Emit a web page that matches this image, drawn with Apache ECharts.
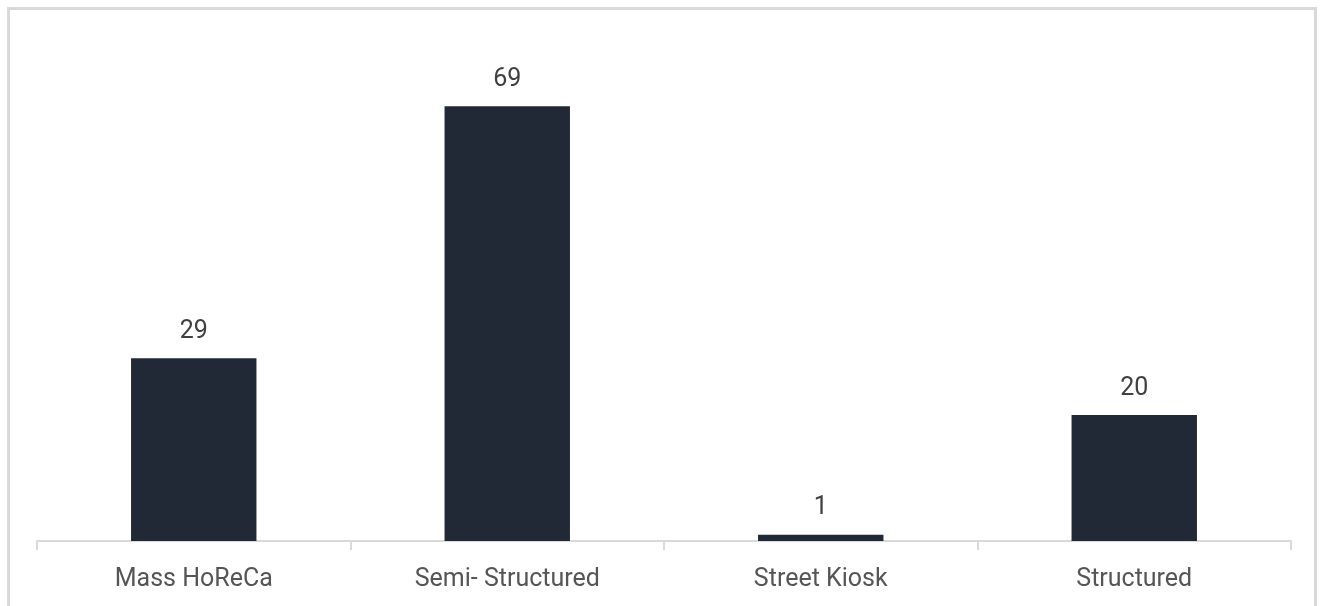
<!DOCTYPE html>
<html>
<head>
<meta charset="utf-8">
<script src="https://cdn.jsdelivr.net/npm/echarts@6/dist/echarts.min.js"></script>
<style>
html,body{margin:0;padding:0;background:#fff;}
#c{width:1325px;height:606px;}
</style>
</head>
<body>
<div id="c"></div>
<script>
const categories = ['Mass HoReCa', 'Semi- Structured', 'Street Kiosk', 'Structured'];
const values = [29, 69, 1, 20];

const chart = echarts.init(document.getElementById('c'));
chart.setOption({
  animation: false,
  backgroundColor: '#ffffff',
  graphic: [{
    type: 'rect',
    shape: {x: 8.5, y: 8.5, width: 1307, height: 640},
    style: {fill: 'none', stroke: '#d9d9d9', lineWidth: 3},
    silent: true
  }],
  grid: {left: 37, right: 34, top: 37, bottom: 65},
  xAxis: {
    type: 'category',
    data: categories,
    axisLine: {lineStyle: {color: '#d9d9d9', width: 2}},
    axisTick: {show: true, length: 9, lineStyle: {color: '#d9d9d9', width: 2}},
    axisLabel: {color: '#555555', fontSize: 25, fontFamily: 'Roboto', margin: 26}
  },
  yAxis: {
    type: 'value',
    min: 0,
    max: 80,
    show: false,
    splitLine: {show: false}
  },
  series: [{
    type: 'bar',
    data: values,
    barWidth: '40%',
    itemStyle: {color: '#222936'},
    label: {
      show: true,
      position: 'top',
      distance: 14,
      color: '#404040',
      fontSize: 25,
      fontFamily: 'Roboto'
    }
  }]
});
</script>
</body>
</html>
